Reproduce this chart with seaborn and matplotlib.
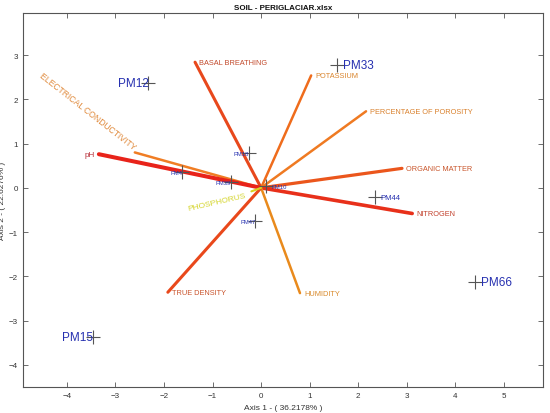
import numpy as np
import pandas as pd
import matplotlib
matplotlib.use('Agg')
import matplotlib.pyplot as plt
import seaborn as sns

# ── biplot data ──
var_names = ['BASAL BREATHING', 'ELECTRICAL CONDUCTIVITY', 'pH', 'POTASSIUM',
             'PERCENTAGE OF POROSITY', 'ORGANIC MATTER', 'NITROGEN',
             'HUMIDITY', 'TRUE DENSITY', 'PHOSPHORUS']
var_x = [-1.36, -2.60, -3.34, 1.03, 2.16, 2.90, 3.11, 0.80, -1.92, -0.20]
var_y = [2.84, 0.80, 0.76, 2.54, 1.73, 0.44, -0.58, -2.38, -2.36, -0.08]

obs_names = ['PM12', 'PM33', 'PM18', 'PM4', 'PM39', 'PM10',
             'PM47', 'PM44', 'PM66', 'PM15']
obs_x = [-2.32, 1.57, -0.25, -1.62, -0.62, 0.10, -0.12, 2.35, 4.41, -3.46]
obs_y = [2.36, 2.77, 0.78, 0.35, 0.13, 0.04, -0.76, -0.21, -2.13, -3.37]

# ── styles ──
line_colors = ['#e8481c', '#f07d24', '#e8231a', '#ef6c1c', '#ef7a22',
               '#eb561c', '#e8301a', '#e98a1c', '#e9481b', '#d9d21e']
text_colors = ['#c24a2c', '#e08a3c', '#b8303a', '#d9842c', '#d9802c',
               '#c9562c', '#c2402c', '#d98a2c', '#c9542c', '#d4d42a']
line_widths = [2.2, 1.8, 2.9, 1.8, 1.8, 2.3, 2.6, 1.8, 2.2, 1.5]
label_side = ['right', 'ec', 'left', 'right', 'right', 'right', 'right',
              'right', 'right', 'phos']

obs_sizes = [8.5, 8.5, 4.2, 4.2, 4.2, 4.2, 4.2, 5.5, 8.5, 8.5]
obs_side = ['left', 'right', 'left', 'left', 'left', 'right',
            'left', 'right', 'right', 'left']

plt.rcParams['font.family'] = ['Liberation Sans', 'DejaVu Sans']

fig = plt.figure(figsize=(5.5, 4.14), dpi=100)
ax = fig.add_axes([0.042, 0.063, 0.945, 0.903])

# variable vectors
for i, name in enumerate(var_names):
    ax.plot([0, var_x[i]], [0, var_y[i]], color=line_colors[i],
            lw=line_widths[i], solid_capstyle='round', zorder=2)
    side = label_side[i]
    if side == 'right':
        ax.annotate(name, (var_x[i], var_y[i]), xytext=(3, 0),
                    textcoords='offset points', ha='left', va='center',
                    fontsize=5.3, color=text_colors[i])
    elif side == 'left':
        ax.annotate(name, (var_x[i], var_y[i]), xytext=(-3, 0),
                    textcoords='offset points', ha='right', va='center',
                    fontsize=5.8, color=text_colors[i])
    elif side == 'ec':
        ax.annotate(name, (var_x[i], var_y[i]), xytext=(-2, 1),
                    textcoords='offset points', ha='right', va='bottom',
                    rotation=-38, rotation_mode='anchor',
                    fontsize=6.2, color=text_colors[i])
    else:
        ax.annotate(name, (var_x[i], var_y[i]), xytext=(-4, -3),
                    textcoords='offset points', ha='right', va='center',
                    rotation=13, rotation_mode='anchor',
                    fontsize=6, color=text_colors[i])

# observations
obs = pd.DataFrame({'x': obs_x, 'y': obs_y, 'name': obs_names})
sns.scatterplot(data=obs, x='x', y='y', marker='+', s=90, color='#555555',
                linewidth=0.8, ax=ax, zorder=3, legend=False)
for i, name in enumerate(obs_names):
    if obs_side[i] == 'right':
        ax.annotate(name, (obs_x[i], obs_y[i]), xytext=(4, 0),
                    textcoords='offset points', ha='left', va='center',
                    fontsize=obs_sizes[i], color='#2630b0', zorder=4)
    else:
        ax.annotate(name, (obs_x[i], obs_y[i]), xytext=(0, 0),
                    textcoords='offset points', ha='right', va='center',
                    fontsize=obs_sizes[i], color='#2630b0', zorder=4)

ax.set_xlim(-4.9, 5.8)
ax.set_ylim(-4.5, 3.95)
ax.set_xticks(range(-4, 6))
ax.set_yticks(range(-4, 4))
ax.tick_params(direction='in', length=3.5, width=0.6, colors='#555555',
               labelsize=5.8, labelcolor='#333333',
               top=True, right=True)
for sp in ax.spines.values():
    sp.set_color('#555555')
    sp.set_linewidth(0.8)

ax.set_xlabel('Axis 1 - ( 36.2178% )', fontsize=6, color='#333333', labelpad=4)
ax.set_ylabel('Axis 2 - ( 22.6276% )', fontsize=6, color='#333333', labelpad=2)
ax.set_title('SOIL - PERIGLACIAR.xlsx', fontsize=5.8, fontweight='bold',
             color='#111111', pad=3)

fig.savefig('out.png', dpi=100)
